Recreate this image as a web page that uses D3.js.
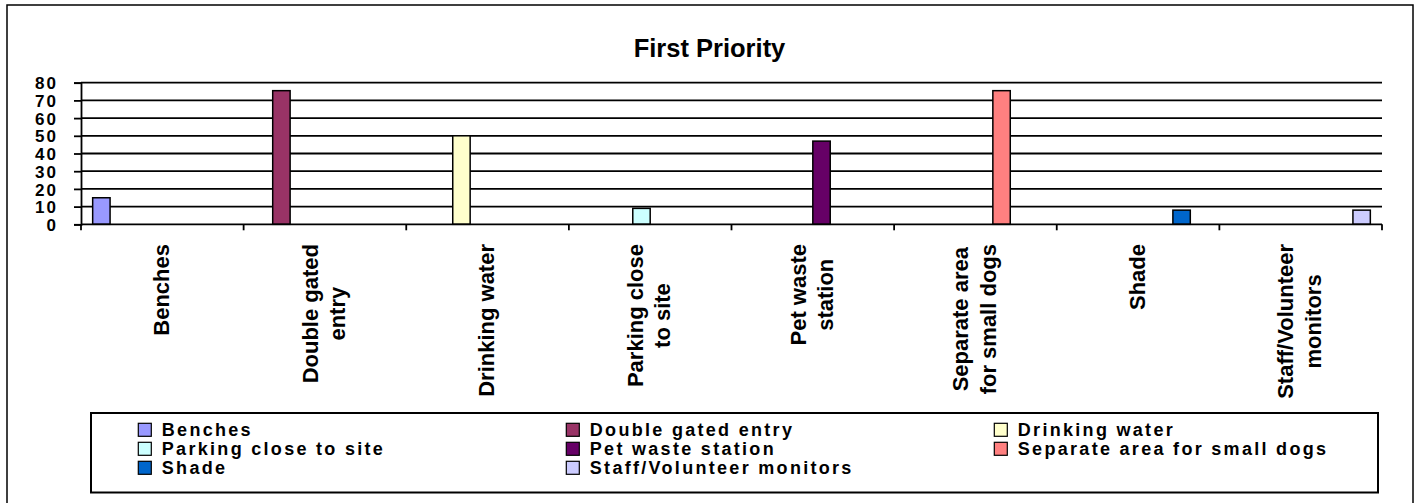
<!DOCTYPE html>
<html>
<head>
<meta charset="utf-8">
<script src="https://cdn.jsdelivr.net/npm/d3@7"></script>
<style>
  html, body { margin: 0; padding: 0; background: #fff; }
  svg { display: block; font-family: "Liberation Sans", Arial, sans-serif; font-weight: bold; }
</style>
</head>
<body>
<svg id="chart" width="1418" height="503"></svg>
<script>
// ---- data ----
const categories = ["Benches", "Double gated entry", "Drinking water", "Parking close to site",
  "Pet waste station", "Separate area for small dogs", "Shade", "Staff/Volunteer monitors"];
const tickLabels = ["Benches", "Double gated\nentry", "Drinking water", "Parking close\nto site",
  "Pet waste\nstation", "Separate area\nfor small dogs", "Shade", "Staff/Volunteer\nmonitors"];
const values = [15, 75.5, 50, 9, 47, 75.5, 8, 8];
const colors = ["#9999FF", "#993366", "#FFFFCC", "#CCFFFF", "#660066", "#FF8080", "#0066CC", "#CCCCFF"];
const yTicks = [0, 10, 20, 30, 40, 50, 60, 70, 80];
const title = "First Priority";

// ---- layout ----
const svg = d3.select("#chart");
const L = 81, R = 1382, T = 82.7, B = 224.3;

svg.append("rect").attr("x", 7).attr("y", 5).attr("width", 1406).attr("height", 505)
  .attr("fill", "#fff").attr("stroke", "#000").attr("stroke-width", 1.5);

const x = d3.scaleBand().domain(categories).range([L, R]).padding(0);
const xs = d3.scaleBand().domain(categories).range([0, x.bandwidth()]).paddingInner(0).paddingOuter(0.67);
const y = d3.scaleLinear().domain([0, 80]).range([B, T]);

// title
svg.append("text").attr("x", 709.5).attr("y", 56.5).attr("text-anchor", "middle")
  .attr("font-size", 25.5).text(title);

// gridlines
svg.append("g").selectAll("line").data(yTicks.filter(d => d > 0)).join("line")
  .attr("x1", L).attr("x2", R).attr("y1", d => y(d)).attr("y2", d => y(d))
  .attr("stroke", "#000").attr("stroke-width", 1.8);

// y axis
const yAxis = svg.append("g").attr("transform", `translate(${L},0)`)
  .call(d3.axisLeft(y).tickValues(yTicks).tickSize(7).tickPadding(16).tickFormat(d3.format("d")));
yAxis.select(".domain").attr("stroke", "#000").attr("stroke-width", 1.8);
yAxis.selectAll(".tick line").attr("stroke", "#000").attr("stroke-width", 1.8);
yAxis.selectAll(".tick text").attr("font-size", 17).attr("font-family", "Liberation Sans, Arial, sans-serif")
  .attr("font-weight", "bold").attr("fill", "#000").attr("letter-spacing", "2px").attr("dy", "0.36em");

// bars
svg.append("g").selectAll("rect").data(categories).join("rect")
  .attr("x", (c) => x(c) + xs(c))
  .attr("width", xs.bandwidth())
  .attr("y", (c, i) => y(values[i]))
  .attr("height", (c, i) => y(0) - y(values[i]))
  .attr("fill", (c, i) => colors[i])
  .attr("stroke", "#000").attr("stroke-width", 1.5);

// x axis baseline and boundary ticks
svg.append("line").attr("x1", L).attr("x2", R).attr("y1", B).attr("y2", B)
  .attr("stroke", "#000").attr("stroke-width", 1.8);
const bounds = categories.map(c => x(c)).concat([x(categories[categories.length - 1]) + x.bandwidth()]);
svg.append("g").selectAll("line").data(bounds).join("line")
  .attr("x1", d => d).attr("x2", d => d).attr("y1", B).attr("y2", B + 6)
  .attr("stroke", "#000").attr("stroke-width", 1.8);

// x category labels (rotated, top aligned)
const lh = 27.5, topY = 244;
categories.forEach((c, i) => {
  const lines = tickLabels[i].split("\n");
  const cx = x(c) + x.bandwidth() / 2;
  const g = svg.append("g");
  const t = g.append("text").attr("font-size", 22).attr("text-anchor", "middle");
  lines.forEach((ln, k) => {
    t.append("tspan").attr("x", 0).attr("y", (k - (lines.length - 1) / 2) * lh + 6.5).text(ln);
  });
  let maxLen = 0;
  t.selectAll("tspan").each(function () { maxLen = Math.max(maxLen, this.getComputedTextLength()); });
  t.selectAll("tspan").attr("x", -maxLen / 2);
  g.attr("transform", `translate(${cx},${topY}) rotate(-90)`);
});

// legend
svg.append("rect").attr("x", 91).attr("y", 413).attr("width", 1287).attr("height", 79.5)
  .attr("fill", "#fff").attr("stroke", "#000").attr("stroke-width", 2);
const lg = svg.append("g").selectAll("g").data(categories).join("g")
  .attr("transform", (c, i) => `translate(${138.3 + (i % 3) * 428},${423.3 + Math.floor(i / 3) * 19})`);
lg.append("rect").attr("width", 13).attr("height", 13)
  .attr("fill", (c, i) => colors[i]).attr("stroke", "#000").attr("stroke-width", 1.2);
lg.append("text").attr("x", 23.5).attr("y", 12.9).attr("font-size", 18)
  .attr("letter-spacing", "2.3px").text(c => c);
</script>
</body>
</html>
